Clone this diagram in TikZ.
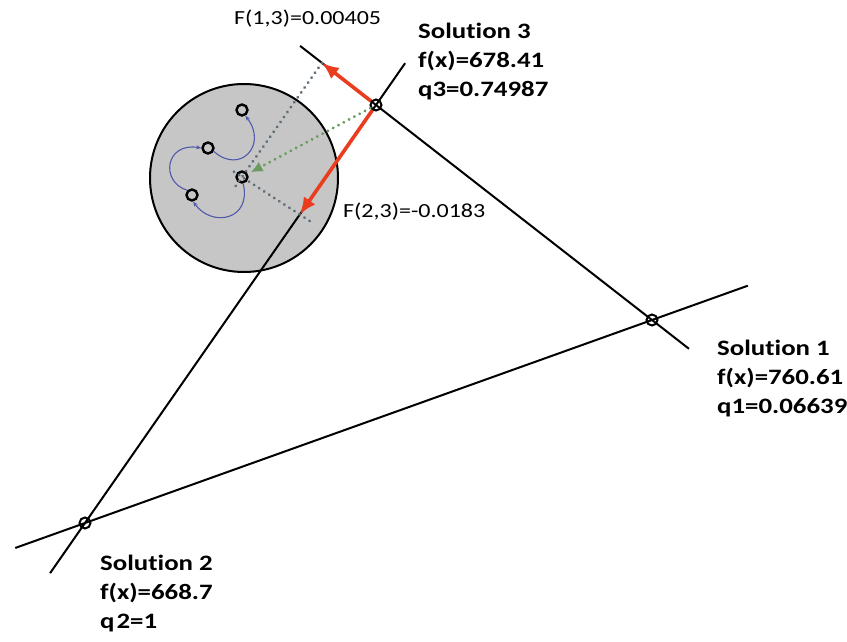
\documentclass[tikz,border=0pt]{standalone}
\usepackage{fontspec}
\setmainfont{Carlito}
\newfontfamily\solfont[FakeStretch=1.22,Ligatures=NoCommon]{Carlito}
\newfontfamily\forcefont[FakeStretch=1.2,Ligatures=NoCommon]{Carlito}
\usetikzlibrary{calc,arrows.meta}

\definecolor{discgray}{RGB}{198,198,198}
\definecolor{forcered}{RGB}{234,60,30}
\definecolor{pathblue}{RGB}{80,90,170}
\definecolor{dotgray}{RGB}{95,110,120}
\definecolor{sumgreen}{RGB}{105,155,95}

\tikzset{
  solmark/.style={circle, draw=black, line width=2pt, minimum size=11pt, inner sep=0pt},
  pmark/.style={circle, draw=black, fill=discgray, line width=2.4pt, minimum size=11pt, inner sep=0pt},
  hyper/.style={black, line width=2pt},
  forcearrow/.style={forcered, line width=3.6pt, -{Latex[length=17pt,width=14pt]}},
  dots/.style={line width=3.2pt, line cap=round, dash pattern=on 0.01pt off 6pt},
  projline/.style={dotgray, dots},
  moveline/.style={pathblue, line width=1.1pt, -{Stealth[length=5pt,width=4pt]}},
  sollabel/.style={anchor=base west, align=left, inner sep=0pt,
    font=\solfont\bfseries\fontsize{22}{29}\selectfont},
  forcelabel/.style={anchor=base west, inner sep=0pt,
    font=\forcefont\fontsize{20}{24}\selectfont}
}

\begin{document}
\begin{tikzpicture}[x=1pt,y=-1pt]
\useasboundingbox (0,0) rectangle (847,642);

% neighbourhood disc
\draw[fill=discgray, line width=2pt] (244,178) circle (94);

% the three solutions
\node[solmark] (s3) at (376,105) {};
\node[solmark] (s1) at (652,320) {};
\node[solmark] (s2) at (85,523) {};

% lines through pairs of solutions
\draw[hyper] ($(s3)!-0.275!(s1)$) -- ($(s3)!1.134!(s1)$);
\draw[hyper] ($(s2)!1.1!(s3)$) -- ($(s3)!1.12!(s2)$);
\draw[hyper] ($(s1)!1.123!(s2)$) -- ($(s2)!1.169!(s1)$);

% points inside the disc
\node[pmark] (p1) at (242,110) {};
\node[pmark] (p2) at (208,148) {};
\node[pmark] (c)  at (242,177) {};
\node[pmark] (p4) at (192,195) {};

% force tips
\coordinate (tip1) at ($(s3)!-0.196!(s1)$);
\coordinate (tip2) at ($(s3)!0.262!(s2)$);

% projection lines
\draw[projline] (tip1) -- ($(tip1)!1.11!(c)$);
\draw[projline] ($(c)!1.17!(tip2)$) -- ($(tip2)!1.22!(c)$);
\draw[sumgreen, dots] (s3) -- ($(s3)!0.9!(c)$);
\draw[sumgreen, -{Latex[length=11pt,width=10pt]}, line width=0.1pt] ($(s3)!0.86!(c)$) -- ($(s3)!0.93!(c)$);

% moves between the points
\draw[moveline] (c.-80) .. controls (252,220) and (212,228) .. (p4.-80);
\draw[moveline] (p4.135) .. controls (160,182) and (165,142) .. (p2.180);
\draw[moveline] (p2.-30) .. controls (240,175) and (268,145) .. (p1.-60);

% forces
\draw[forcearrow] (s3) -- (tip1);
\draw[forcearrow] (s3) -- (tip2);

% labels (anchored at the baseline of the last line)
\node[forcelabel] (f13) at (234,25) {F(1,3)=0.00405};
\node[forcelabel] (f23) at (343,217) {F(2,3)=-0.0183};
\node[sollabel] (l3) at (418,96) {Solution 3\\f(x)=678.41\\q3=0.74987};
\node[sollabel] (l1) at (717,413) {Solution 1\\f(x)=760.61\\q1=0.06639};
\node[sollabel] (l2) at (100,628) {Solution 2\\f(x)=668.7\\q\kern2pt2=1};
\end{tikzpicture}
\end{document}
